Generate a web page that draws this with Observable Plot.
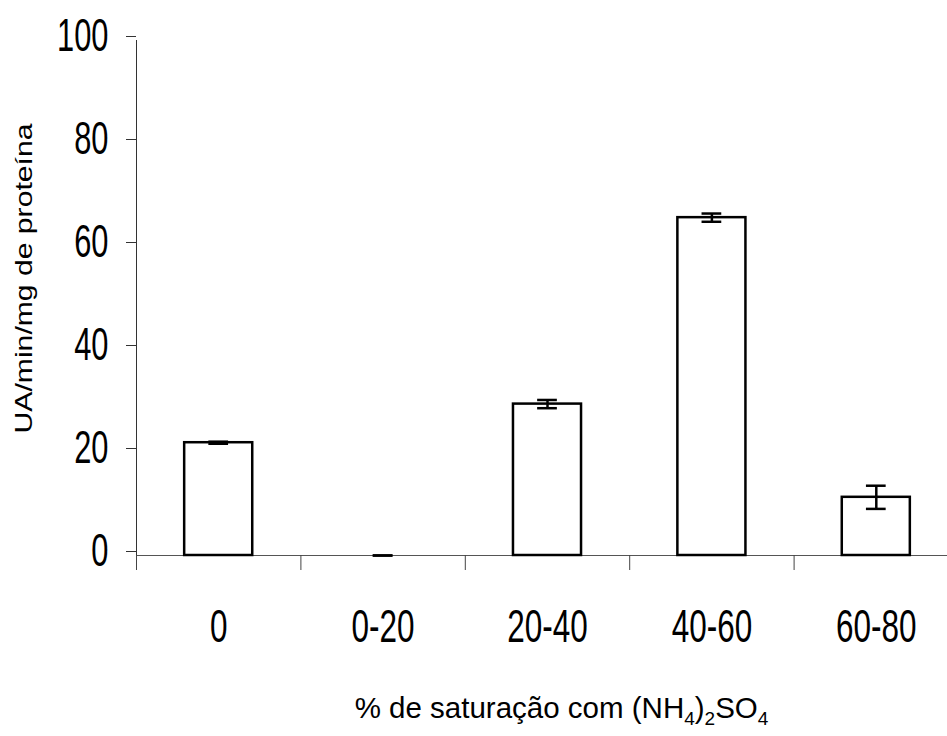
<!DOCTYPE html>
<html><head><meta charset="utf-8">
<script src="https://cdn.jsdelivr.net/npm/d3@7"></script>
<script src="https://cdn.jsdelivr.net/npm/@observablehq/plot@0.6"></script>
<style>body{margin:0;background:#fff}</style>
</head><body><div id="chart"></div>
<script>
const categories = ["0", "0-20", "20-40", "40-60", "60-80"];
const values = [21.9, 0, 29.4, 65.6, 11.3];
const errors = [0.2, 0, 0.8, 0.8, 2.25];
const yTicks = [0, 20, 40, 60, 80, 100];
const yLabel = "UA/min/mg de proteína";
const xLabelParts = [["% de saturação com (NH", false], ["4", true], [")", false], ["2", true], ["SO", false], ["4", true]];

const data = categories.map((c, i) => ({c, i, value: values[i], err: errors[i]}));
const boundaries = d3.range(categories.length + 1);
const half = 0.207, cap = 0.06;
const font = "'Liberation Sans', Arial, sans-serif";

const chart = Plot.plot({
  width: 947, height: 736,
  marginLeft: 136, marginRight: -11, marginTop: 40, marginBottom: 181,
  style: {fontFamily: font, background: "white", overflow: "hidden", color: "black"},
  x: {domain: [0, categories.length], axis: null},
  y: {domain: [0, 100], axis: null},
  marks: [
    Plot.ruleY([0], {stroke: "#555", strokeWidth: 1}),
    Plot.ruleX([0], {y1: 0, y2: 100, stroke: "#333", strokeWidth: 1}),
    Plot.axisY({ticks: yTicks, tickSize: 10, tickPadding: 18, fontSize: 46, stroke: "#333", fill: "black", dy: -4, label: null}),
    Plot.axisX({ticks: boundaries, tickSize: 15, tickFormat: () => "", stroke: "#444", label: null}),
    Plot.text(data, {x: d => d.i + 0.5, y: 0, text: "c", dy: 53, lineAnchor: "top", fontSize: 47, fill: "black", ariaLabel: () => "category label"}),
    Plot.rectY(data, {filter: d => d.value > 0, x1: d => d.i + 0.5 - half, x2: d => d.i + 0.5 + half, y1: 0, y2: "value", fill: "white", stroke: "black", strokeWidth: 2.5}),
    Plot.ruleX(data, {x: d => d.i + 0.5, y1: d => d.value - d.err, y2: d => d.value + d.err, stroke: "black", strokeWidth: 2.5}),
    Plot.ruleY(data, {y: d => d.value + d.err, x1: d => d.i + 0.5 - cap, x2: d => d.i + 0.5 + cap, stroke: "black", strokeWidth: 2.5}),
    Plot.ruleY(data, {y: d => d.value - d.err, x1: d => d.i + 0.5 - cap, x2: d => d.i + 0.5 + cap, stroke: "black", strokeWidth: 2.5}),
    Plot.text([yLabel], {text: d => d, frameAnchor: "left", textAnchor: "middle", dx: -112, dy: -19.5, rotate: -90, fontSize: 23, fill: "black", ariaLabel: () => "y label"}),
    Plot.text([xLabelParts.map(p => p[0]).join("")], {text: d => d, frameAnchor: "bottom", textAnchor: "middle", dx: 14, dy: 162, fontSize: 29.5, fill: "black", ariaLabel: () => "x label"})
  ]
});
document.getElementById("chart").appendChild(chart);

const svg = d3.select(chart);
function addScale(el, sx) {
  const t = el.getAttribute("transform");
  if (t) {
    el.setAttribute("transform", t + ` scale(${sx},1)`);
  } else {
    const x = +el.getAttribute("x") || 0;
    el.setAttribute("transform", `translate(${x},0) scale(${sx},1) translate(${-x},0)`);
  }
}
svg.selectAll('g[aria-label="y-axis tick label"] text, text[aria-label="category label"]').each(function() {
  addScale(this, 0.67);
});
svg.selectAll('text[aria-label="y label"]').each(function() {
  const L = this.getComputedTextLength();
  addScale(this, 310 / L);
});
const xl = svg.select('text[aria-label="x label"]');
xl.text(null);
let prevSub = false;
xLabelParts.forEach(([t, sub]) => {
  const ts = xl.append("tspan").text(t);
  if (sub) {
    ts.attr("font-size", 19);
    if (!prevSub) ts.attr("dy", 7);
  } else if (prevSub) {
    ts.attr("dy", -7);
  }
  prevSub = sub;
});
</script>
</body></html>
